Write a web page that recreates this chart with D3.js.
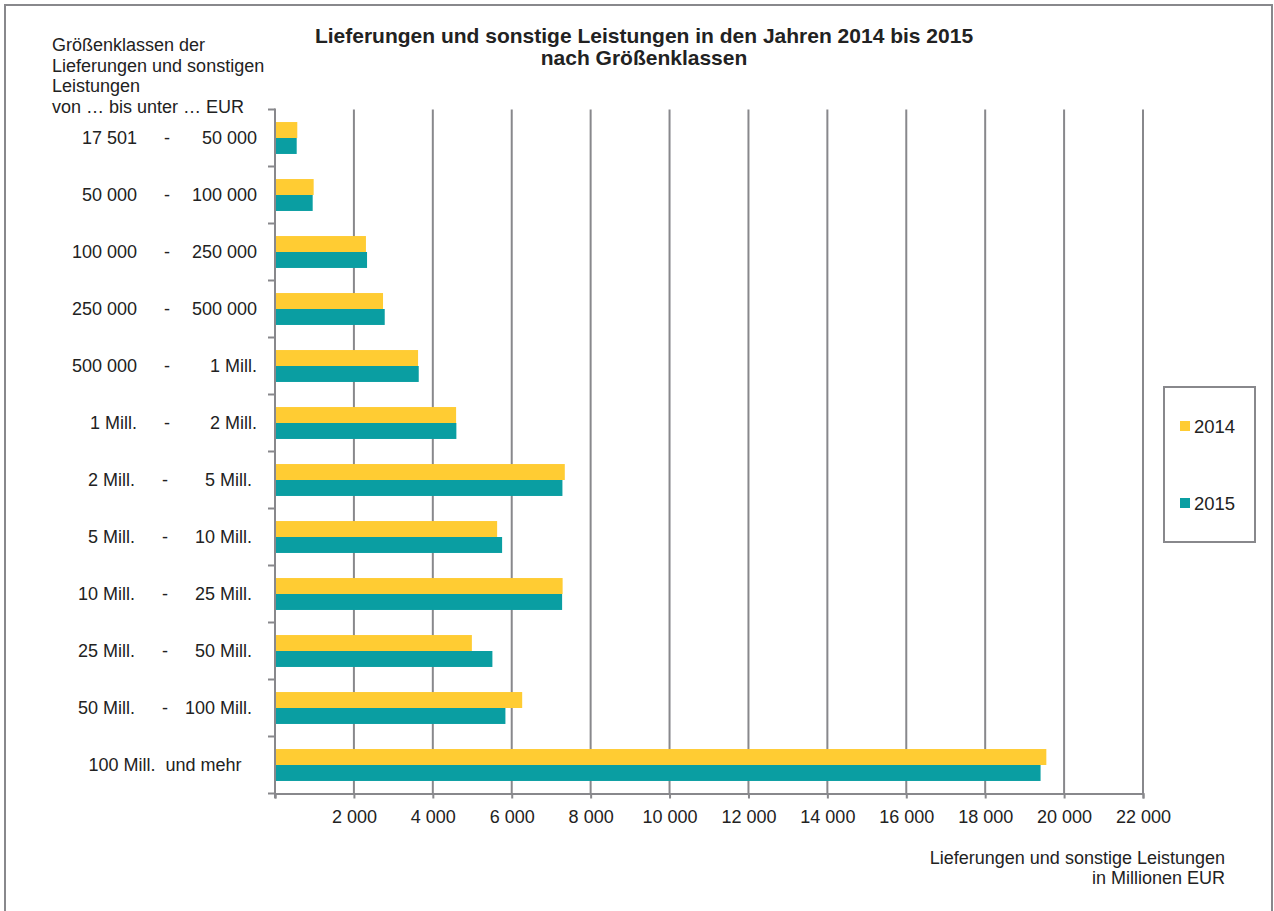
<!DOCTYPE html>
<html>
<head>
<meta charset="utf-8">
<script src="https://cdn.jsdelivr.net/npm/d3@7"></script>
<style>
  body { margin: 0; background: #fff; }
  svg text { font-family: "Liberation Sans", Arial, sans-serif; fill: #222; }
</style>
</head>
<body>
<div id="chart"></div>
<script>
const width = 1274;
const height = 911;

// Größenklassen (von ... bis unter ... EUR)
const classFrom = ["17 501", "50 000", "100 000", "250 000", "500 000", "1 Mill.", "2 Mill.", "5 Mill.", "10 Mill.", "25 Mill.", "50 Mill.", "100 Mill.  und mehr"];
const classTo = ["50 000", "100 000", "250 000", "500 000", "1 Mill.", "2 Mill.", "5 Mill.", "10 Mill.", "25 Mill.", "50 Mill.", "100 Mill.", ""];
const years = ["2014", "2015"];
// Lieferungen und sonstige Leistungen in Millionen EUR
const values2014 = [565, 980, 2305, 2738, 3626, 4590, 7345, 5630, 7290, 4990, 6265, 19550];
const values2015 = [550, 955, 2333, 2781, 3643, 4597, 7285, 5756, 7277, 5510, 5840, 19404];
const xTicks = [0, 2000, 4000, 6000, 8000, 10000, 12000, 14000, 16000, 18000, 20000, 22000];

const colors = { "2014": "#ffcc33", "2015": "#0a9ea2" };
const axisColor = "#88888c";
const fs = 18;

const svg = d3.select("#chart").append("svg")
    .attr("width", width).attr("height", height);

// outer frame
svg.append("rect")
    .attr("x", 5).attr("y", 5).attr("width", 1267).attr("height", 920)
    .attr("fill", "none").attr("stroke", axisColor).attr("stroke-width", 2);

const x = d3.scaleLinear().domain([0, 22000]).range([275, 1143]);
const y = d3.scaleBand().domain(d3.range(classFrom.length))
    .range([109.5, 793.5]).paddingInner(0.44).paddingOuter(0.22);
const ySub = d3.scaleBand().domain(years).range([0, y.bandwidth()]);

// vertical gridlines
svg.append("g")
    .selectAll("line")
    .data(xTicks.filter(d => d > 0))
    .join("line")
    .attr("x1", d => x(d)).attr("x2", d => x(d))
    .attr("y1", 109.5).attr("y2", 793.5)
    .attr("stroke", axisColor).attr("stroke-width", 2);

// bars
const rows = classFrom.map((c, i) => ({ i, v: { "2014": values2014[i], "2015": values2015[i] } }));
const row = svg.append("g").selectAll("g")
    .data(rows)
    .join("g")
    .attr("transform", d => `translate(0,${y(d.i)})`);

row.selectAll("rect")
    .data(d => years.map(k => ({ k, v: d.v[k] })))
    .join("rect")
    .attr("x", x(0))
    .attr("y", d => ySub(d.k))
    .attr("width", d => x(d.v) - x(0))
    .attr("height", ySub.bandwidth())
    .attr("fill", d => colors[d.k]);

// x axis
const xAxis = svg.append("g")
    .attr("transform", "translate(0,793.5)")
    .call(d3.axisBottom(x).tickValues(xTicks).tickSize(5).tickPadding(12)
        .tickFormat(d => d === 0 ? "" : d3.format(",")(d).replace(/,/g, " ")));
xAxis.select(".domain").attr("stroke", axisColor).attr("stroke-width", 2);
xAxis.selectAll(".tick line").attr("stroke", axisColor).attr("stroke-width", 2);
xAxis.selectAll(".tick text")
    .attr("font-size", fs).attr("fill", "#222")
    .style("font-family", "'Liberation Sans', Arial, sans-serif");

// y axis line + ticks on category boundaries
const gap = (y.step() - y.bandwidth()) / 2;
const bounds = classFrom.map((c, i) => y(i) - gap).concat([793.5]);
svg.append("line")
    .attr("x1", x(0)).attr("x2", x(0)).attr("y1", 108.5).attr("y2", 798)
    .attr("stroke", axisColor).attr("stroke-width", 2);
svg.append("g").selectAll("line")
    .data(bounds)
    .join("line")
    .attr("x1", x(0) - 7).attr("x2", x(0))
    .attr("y1", d => d).attr("y2", d => d)
    .attr("stroke", axisColor).attr("stroke-width", 2);

// category labels
const labels = svg.append("g").attr("font-size", fs);
classFrom.forEach((c, i) => {
    const cy = y(i) + y.bandwidth() / 2 + 6;
    if (classTo[i] === "") {
        labels.append("text").attr("x", 165).attr("y", cy)
            .attr("text-anchor", "middle").attr("xml:space", "preserve").text(c);
        return;
    }
    const shift = i >= 6 ? -2 : 0;
    labels.append("text").attr("x", 137 + shift).attr("y", cy).attr("text-anchor", "end").text(c);
    labels.append("text").attr("x", 167 + shift).attr("y", cy).attr("text-anchor", "middle").text("-");
    labels.append("text").attr("x", 257 + (i >= 6 ? -5 : 0)).attr("y", cy).attr("text-anchor", "end").text(classTo[i]);
});

// left header
const header = ["Größenklassen der", "Lieferungen und sonstigen", "Leistungen", "von … bis unter … EUR"];
svg.append("g").attr("font-size", fs)
    .selectAll("text").data(header).join("text")
    .attr("x", 52).attr("y", (d, i) => 51 + i * 20.7)
    .text(d => d);

// title
svg.append("text")
    .attr("x", 644).attr("y", 43).attr("text-anchor", "middle")
    .attr("font-size", 21).attr("font-weight", "bold")
    .text("Lieferungen und sonstige Leistungen in den Jahren 2014 bis 2015");
svg.append("text")
    .attr("x", 644).attr("y", 65).attr("text-anchor", "middle")
    .attr("font-size", 21).attr("font-weight", "bold")
    .text("nach Größenklassen");

// x axis title
svg.append("text")
    .attr("x", 1225).attr("y", 864).attr("text-anchor", "end").attr("font-size", fs)
    .text("Lieferungen und sonstige Leistungen");
svg.append("text")
    .attr("x", 1225).attr("y", 884).attr("text-anchor", "end").attr("font-size", fs)
    .text("in Millionen EUR");

// legend
const legend = svg.append("g");
legend.append("rect")
    .attr("x", 1164).attr("y", 387).attr("width", 91).attr("height", 155)
    .attr("fill", "#fff").attr("stroke", axisColor).attr("stroke-width", 2);
const li = legend.selectAll("g.item").data(years).join("g")
    .attr("transform", (d, i) => `translate(1180,${421 + i * 77})`);
li.append("rect").attr("width", 10).attr("height", 10).attr("fill", d => colors[d]);
li.append("text").attr("x", 14).attr("y", 11.5).attr("font-size", 18.5).text(d => d);
</script>
</body>
</html>
